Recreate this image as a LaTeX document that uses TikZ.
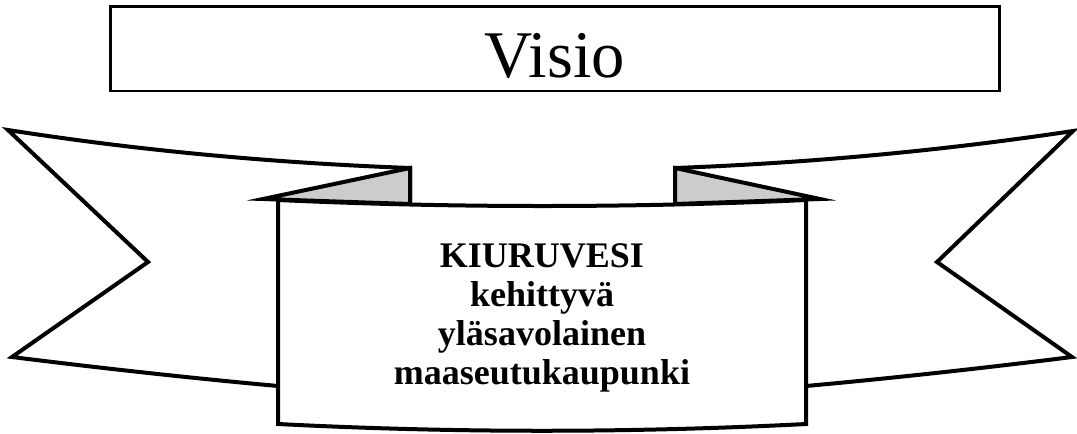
\documentclass[tikz,border=0pt]{standalone}
\usepackage{fontspec}
\setmainfont{Liberation Serif}
\begin{document}
\begin{tikzpicture}[x=0.75pt,y=-0.75pt,
  ribbon/.style={draw,line width=3pt,fill=white},
  fold/.style={draw,line width=3pt,fill=black!20}]
  \useasboundingbox (0,0) rectangle (1077,433);
  \node[draw,line width=2pt,minimum width=667pt,minimum height=63.5pt,text height=45pt,text depth=2.2pt,font=\fontsize{50}{60}\selectfont] (visio) at (555,48.5) {Visio};
  % back of the ribbon, left and right ends
  \draw[ribbon] (410,168) .. controls (276,163) and (142,151) .. (8,130) -- (148,262) -- (12,357) .. controls (100,368) and (190,378) .. (278,386) -- (410,388) -- cycle;
  \draw[ribbon] (675,168) .. controls (808,163) and (940,151) .. (1073,131) -- (937,262) -- (1072,357) .. controls (984,368) and (894,378) .. (806,386) -- (675,388) -- cycle;
  % folds
  \draw[fold] (410,168) -- (263,199) -- (410,204) -- cycle;
  \draw[fold] (675,168) -- (820,199) -- (675,204) -- cycle;
  % front panel
  \draw[ribbon] (278,200) .. controls (454,208) and (630,208) .. (806,200) -- (806,424) .. controls (630,433) and (454,433) .. (278,424) -- cycle;
  \node[align=center,font=\bfseries\fontsize{27}{29.25}\selectfont] (kiuru) at (542,318) {KIURUVESI\\kehittyvä\\yläsavolainen\\maaseutukaupunki};
\end{tikzpicture}
\end{document}
